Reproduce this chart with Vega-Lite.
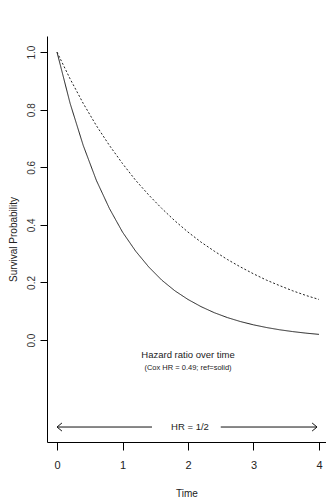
{
  "$schema": "https://vega.github.io/schema/vega-lite/v6.json",
  "autosize": {"type": "none"},
  "padding": {"left": 47, "top": 36, "right": 0, "bottom": 60},
  "width": 279,
  "height": 406,
  "background": "white",
  "config": {
    "view": {"stroke": null},
    "font": "Liberation Sans Narrow, Arial Narrow, Liberation Sans, Arial, sans-serif"
  },
  "datasets": {
    "curves": [
      {"t": 0, "s": 1, "arm": "solid"},
      {"t": 0.2, "s": 0.822, "arm": "solid"},
      {"t": 0.4, "s": 0.676, "arm": "solid"},
      {"t": 0.6, "s": 0.555, "arm": "solid"},
      {"t": 0.8, "s": 0.457, "arm": "solid"},
      {"t": 1.0, "s": 0.375, "arm": "solid"},
      {"t": 1.2, "s": 0.309, "arm": "solid"},
      {"t": 1.4, "s": 0.254, "arm": "solid"},
      {"t": 1.6, "s": 0.208, "arm": "solid"},
      {"t": 1.8, "s": 0.171, "arm": "solid"},
      {"t": 2.0, "s": 0.141, "arm": "solid"},
      {"t": 2.2, "s": 0.116, "arm": "solid"},
      {"t": 2.4, "s": 0.0952, "arm": "solid"},
      {"t": 2.6, "s": 0.0782, "arm": "solid"},
      {"t": 2.8, "s": 0.0643, "arm": "solid"},
      {"t": 3.0, "s": 0.0529, "arm": "solid"},
      {"t": 3.2, "s": 0.0435, "arm": "solid"},
      {"t": 3.4, "s": 0.0357, "arm": "solid"},
      {"t": 3.6, "s": 0.0294, "arm": "solid"},
      {"t": 3.8, "s": 0.0241, "arm": "solid"},
      {"t": 4.0, "s": 0.0198, "arm": "solid"},
      {"t": 0, "s": 1, "arm": "dashed"},
      {"t": 0.2, "s": 0.907, "arm": "dashed"},
      {"t": 0.4, "s": 0.822, "arm": "dashed"},
      {"t": 0.6, "s": 0.745, "arm": "dashed"},
      {"t": 0.8, "s": 0.676, "arm": "dashed"},
      {"t": 1.0, "s": 0.613, "arm": "dashed"},
      {"t": 1.2, "s": 0.555, "arm": "dashed"},
      {"t": 1.4, "s": 0.504, "arm": "dashed"},
      {"t": 1.6, "s": 0.457, "arm": "dashed"},
      {"t": 1.8, "s": 0.414, "arm": "dashed"},
      {"t": 2.0, "s": 0.375, "arm": "dashed"},
      {"t": 2.2, "s": 0.340, "arm": "dashed"},
      {"t": 2.4, "s": 0.309, "arm": "dashed"},
      {"t": 2.6, "s": 0.280, "arm": "dashed"},
      {"t": 2.8, "s": 0.254, "arm": "dashed"},
      {"t": 3.0, "s": 0.230, "arm": "dashed"},
      {"t": 3.2, "s": 0.208, "arm": "dashed"},
      {"t": 3.4, "s": 0.189, "arm": "dashed"},
      {"t": 3.6, "s": 0.171, "arm": "dashed"},
      {"t": 3.8, "s": 0.155, "arm": "dashed"},
      {"t": 4.0, "s": 0.141, "arm": "dashed"}
    ],
    "arrows": [
      {"seg": "L", "o": 1, "t": 0, "s": -0.302},
      {"seg": "L", "o": 2, "t": 1.45, "s": -0.302},
      {"seg": "LH", "o": 1, "t": 0.075, "s": -0.288},
      {"seg": "LH", "o": 2, "t": 0, "s": -0.302},
      {"seg": "LH", "o": 3, "t": 0.075, "s": -0.316},
      {"seg": "R", "o": 1, "t": 2.5, "s": -0.302},
      {"seg": "R", "o": 2, "t": 3.97, "s": -0.302},
      {"seg": "RH", "o": 1, "t": 3.895, "s": -0.288},
      {"seg": "RH", "o": 2, "t": 3.97, "s": -0.302},
      {"seg": "RH", "o": 3, "t": 3.895, "s": -0.316}
    ]
  },
  "layer": [
    {
      "data": {"name": "curves"},
      "mark": {"type": "line", "color": "#222", "strokeWidth": 1},
      "encoding": {
        "x": {
          "field": "t", "type": "quantitative",
          "scale": {"domain": [-0.153, 4.107], "nice": false, "zero": false},
          "axis": {
            "values": [0, 1, 2, 3, 4], "format": "d", "grid": false, "title": "Time",
            "domainColor": "#000", "tickColor": "#000", "tickSize": 8,
            "labelFontSize": 11, "labelColor": "#222", "labelPadding": 9,
            "titleFontSize": 10, "titleFontWeight": "normal", "titleColor": "#222", "titlePadding": 18
          }
        },
        "y": {
          "field": "s", "type": "quantitative",
          "scale": {"domain": [-0.354, 1.056], "nice": false, "zero": false},
          "axis": {
            "values": [0, 0.2, 0.4, 0.6, 0.8, 1.0], "format": ".1f", "grid": false,
            "title": "Survival Probability",
            "domainColor": "#000", "tickColor": "#000", "tickSize": 7,
            "labelAngle": 270, "labelAlign": "center", "labelBaseline": "bottom",
            "labelFont": "Liberation Sans, Arial, sans-serif",
            "labelFontSize": 10, "labelColor": "#333", "labelPadding": 4,
            "titleFont": "Liberation Sans, Arial, sans-serif",
            "titleFontSize": 10, "titleFontWeight": "normal", "titleColor": "#222", "titlePadding": 8
          }
        },
        "detail": {"field": "arm"},
        "strokeDash": {
          "field": "arm", "type": "nominal",
          "scale": {"domain": ["solid", "dashed"], "range": [[1, 0], [2, 2]]},
          "legend": null
        }
      }
    },
    {
      "mark": {"type": "rule", "color": "#000", "strokeWidth": 1.2},
      "encoding": {"y": {"datum": 0}}
    },
    {
      "mark": {"type": "rule", "color": "#000", "strokeWidth": 1.2},
      "encoding": {"y": {"datum": 1.056}}
    },
    {
      "data": {"name": "arrows"},
      "mark": {"type": "line", "color": "#111", "strokeWidth": 1},
      "encoding": {
        "x": {"field": "t", "type": "quantitative"},
        "y": {"field": "s", "type": "quantitative"},
        "detail": {"field": "seg"},
        "order": {"field": "o"}
      }
    },
    {
      "data": {"values": [{"t": 2, "s": -0.052, "label": "Hazard ratio over time"}]},
      "mark": {"type": "text", "fontSize": 9.5, "color": "#222", "baseline": "middle"},
      "encoding": {
        "x": {"field": "t", "type": "quantitative"},
        "y": {"field": "s", "type": "quantitative"},
        "text": {"field": "label"}
      }
    },
    {
      "data": {"values": [{"t": 2, "s": -0.097, "label": "(Cox HR = 0.49; ref=solid)"}]},
      "mark": {"type": "text", "fontSize": 7.5, "color": "#222", "baseline": "middle"},
      "encoding": {
        "x": {"field": "t", "type": "quantitative"},
        "y": {"field": "s", "type": "quantitative"},
        "text": {"field": "label"}
      }
    },
    {
      "data": {"values": [{"t": 2.03, "s": -0.302, "label": "HR = 1/2"}]},
      "mark": {"type": "text", "fontSize": 9.5, "color": "#222", "baseline": "middle"},
      "encoding": {
        "x": {"field": "t", "type": "quantitative"},
        "y": {"field": "s", "type": "quantitative"},
        "text": {"field": "label"}
      }
    }
  ]
}
